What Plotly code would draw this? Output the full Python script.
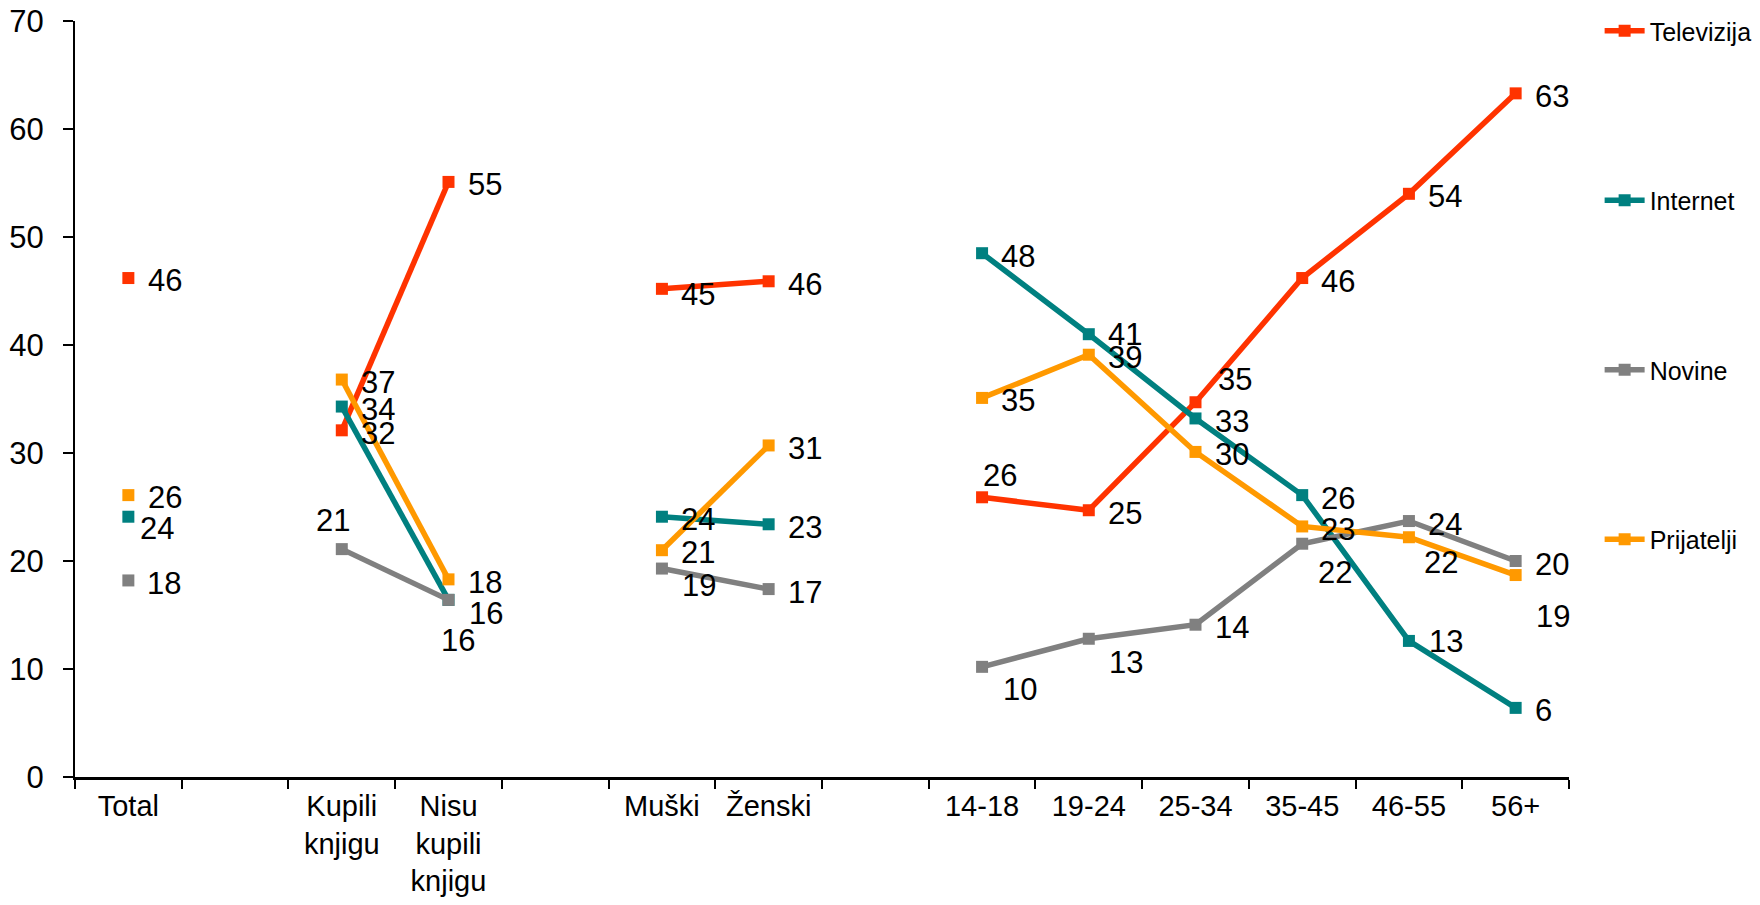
import plotly.graph_objects as go

categories = ["Total", " ", "Kupili<br>knjigu", "Nisu<br>kupili<br>knjigu", "  ",
              "Muški", "Ženski", "   ", "14-18", "19-24", "25-34", "35-45", "46-55", "56+"]

televizija = [46.2, None, 32.1, 55.1, None, 45.2, 45.9, None, 25.9, 24.7, 34.7, 46.2, 54.0, 63.3]
internet   = [24.1, None, 34.3, 16.4, None, 24.1, 23.4, None, 48.5, 41.0, 33.2, 26.1, 12.6, 6.4]
novine     = [18.2, None, 21.1, 16.4, None, 19.3, 17.4, None, 10.2, 12.8, 14.1, 21.6, 23.7, 20.0]
prijatelji = [26.1, None, 36.8, 18.3, None, 21.0, 30.7, None, 35.1, 39.1, 30.1, 23.2, 22.2, 18.7]

series_names = ["Televizija", "Internet", "Novine", "Prijatelji"]
series_colors = ["#FF3300", "#008080", "#808080", "#FF9900"]

# label offsets (dx, dy) in pixels from each marker, dy downward
S = (21, 3)
label_offsets = [
    [(22, 2), None, S, S, None, (21, 6), S, None, (3, -22), S, (24, -23), S, S, S],
    [(14, 12), None, S, (22, 14), None, S, S, None, S, (21, 0), S, S, (22, 1), S],
    [S, None, (-24, -29), (-6, 41), None, (22, 17), S, None, (23, 23), (22, 24), S, (18, 29), S, S],
    [(22, 2), None, S, S, None, (21, 2), S, None, S, S, S, S, (17, 25), (22, 41)],
]

fig = go.Figure()
annotations = []
for i, (name, vals, col) in enumerate(zip(series_names,
                                          [televizija, internet, novine, prijatelji],
                                          series_colors)):
    fig.add_trace(go.Scatter(
        x=categories, y=vals, name=name, mode="lines+markers",
        line=dict(color=col, width=5.5),
        marker=dict(symbol="square", size=12, color=col),
        legendgroup=name, cliponaxis=False, hoverinfo="x+y+name",
    ))
    for cat, v, off in zip(categories, vals, label_offsets[i]):
        if v is None:
            continue
        dx, dy = off
        annotations.append(dict(
            x=cat, y=v, xref="x", yref="y", text=f"{round(v):d}", showarrow=False,
            xanchor="left", yanchor="middle", xshift=dx - 4, yshift=-dy,
            font=dict(family="Liberation Sans, Arial, sans-serif", size=31, color="black"),
        ))

fig.update_layout(
    width=1744, height=889,
    paper_bgcolor="white", plot_bgcolor="white",
    margin=dict(l=67, r=183, t=13, b=120, autoexpand=False),
    font=dict(family="Liberation Sans, Arial, sans-serif", size=29, color="black"),
    showlegend=True,
    annotations=annotations,
    legend=dict(x=1.0205, y=1.015, xanchor="left", yanchor="top", yref="container",
                maxheight=1.0,
                font=dict(size=25, color="black"),
                tracegroupgap=134, itemwidth=40, bgcolor="rgba(0,0,0,0)"),
    xaxis=dict(type="category", categoryorder="array", categoryarray=categories,
               range=[-0.5, 13.5],
               showline=True, linecolor="black", linewidth=3,
               ticks="outside", tickson="boundaries", ticklen=9, tickwidth=2, tickcolor="black",
               showgrid=False, zeroline=False, tickfont=dict(size=29), automargin=False,
               ticklabelstandoff=1),
    yaxis=dict(range=[0, 70], dtick=10, showline=True, linecolor="black", linewidth=2,
               ticks="outside", ticklen=10, tickwidth=2, tickcolor="black",
               showgrid=False, zeroline=False, tickfont=dict(size=31),
               ticklabelstandoff=13, automargin=False, ticklabeloverflow="allow"),
)

fig.write_html("out.html")
